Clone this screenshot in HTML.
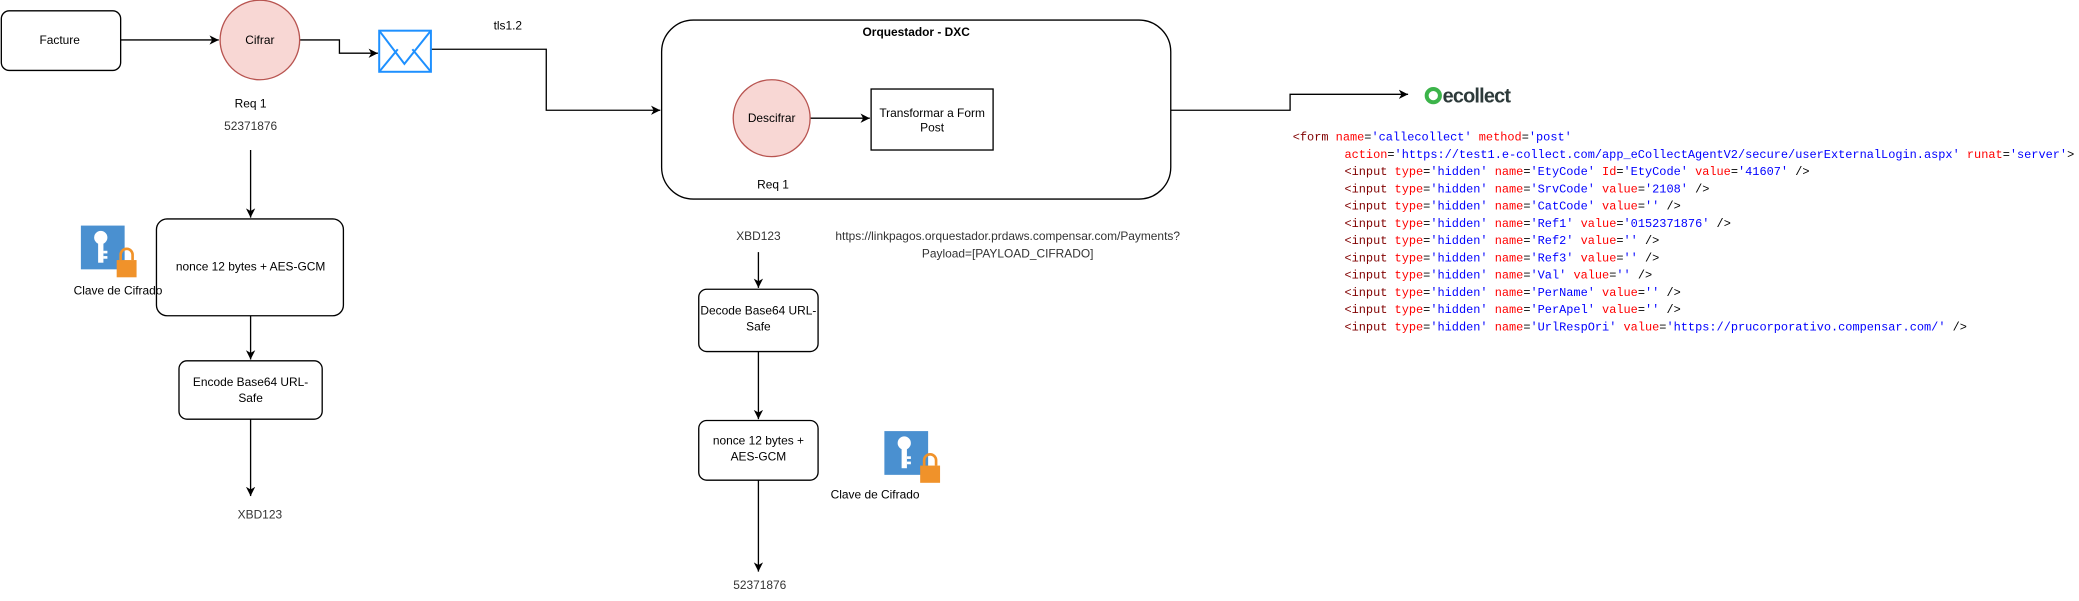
<!DOCTYPE html>
<html><head><meta charset="utf-8"><style>html,body{margin:0;padding:0;background:#fff}svg{display:block}</style></head>
<body>
<svg width="2079" height="601" viewBox="0 0 1568 453" xmlns="http://www.w3.org/2000/svg" font-family="Liberation Sans, sans-serif" font-size="9">
<defs><marker id="a" markerWidth="8" markerHeight="8" refX="7" refY="4" orient="auto" markerUnits="userSpaceOnUse"><path d="M0,0.5 L7,4 L0,7.5 L2,4 Z" fill="#000"/></marker></defs>
<rect width="1568" height="453" fill="#fff"/>
<g fill="none" stroke="#000" stroke-width="1">
<rect x="1" y="8" width="90" height="45" rx="6" fill="#fff"/>
<path d="M91,30 H165" marker-end="url(#a)"/>
<path d="M226,30 H256 V40 H285" marker-end="url(#a)"/>
<path d="M325,37 H412 V83 H498" marker-end="url(#a)"/>
<rect x="499" y="15" width="384" height="135" rx="24" fill="#fff"/>
<path d="M611,89 H656" marker-end="url(#a)"/>
<rect x="657" y="67" width="92" height="46" fill="#fff"/>
<path d="M883,83 H973 V71 H1062" marker-end="url(#a)"/>
<path d="M189,113 V164" marker-end="url(#a)"/>
<rect x="118" y="165" width="141" height="73" rx="8" fill="#fff"/>
<path d="M189,238 V271" marker-end="url(#a)"/>
<rect x="135" y="272" width="108" height="44" rx="6" fill="#fff"/>
<path d="M189,316 V374" marker-end="url(#a)"/>
<path d="M572,190 V217" marker-end="url(#a)"/>
<rect x="527" y="218" width="90" height="47" rx="6" fill="#fff"/>
<path d="M572,265 V316" marker-end="url(#a)"/>
<rect x="527" y="317" width="90" height="45" rx="6" fill="#fff"/>
<path d="M572,362 V431" marker-end="url(#a)"/>
</g>
<ellipse cx="196" cy="30" rx="30" ry="30" fill="#f8d7d4" stroke="#b85450"/>
<ellipse cx="582" cy="89" rx="29" ry="29" fill="#f8d7d4" stroke="#b85450"/>
<g fill="none" stroke="#1e90ff" stroke-width="1.5">
<rect x="286" y="23" width="39" height="31" fill="#fff"/>
<path d="M286,23 L305,48 L325,23 M286,54 L300,37 M325,54 L311,37"/>
</g>
<g id="key">
<rect x="61" y="170" width="33" height="33" fill="#4a90d0"/>
<circle cx="76" cy="179" r="5" fill="#fff"/><rect x="74" y="181" width="4" height="17" fill="#fff"/><rect x="78" y="189" width="3" height="2" fill="#fff"/><rect x="78" y="193" width="3" height="2" fill="#fff"/>
<rect x="88" y="196" width="15" height="13" fill="#f0922a"/><path d="M91,196 v-4 a4.5,4.5 0 0 1 9,0 v4" fill="none" stroke="#f0922a" stroke-width="2"/>
</g>
<use href="#key" x="606" y="155"/>
<g text-anchor="middle" fill="#000">
<text x="45" y="33">Facture</text>
<text x="196" y="33">Cifrar</text>
<text x="383" y="22">tls1.2</text>
<text x="691" y="27" font-weight="bold">Orquestador - DXC</text>
<text x="582" y="92">Descifrar</text>
<text x="703" y="88">Transformar a Form</text>
<text x="703" y="99">Post</text>
<text x="583" y="142">Req 1</text>
<text x="189" y="81">Req 1</text>
<text x="189" y="98" fill="#333">52371876</text>
<text x="189" y="204">nonce 12 bytes +  AES-GCM</text>
<text x="89" y="222">Clave de Cifrado</text>
<text x="189" y="291">Encode Base64 URL-</text>
<text x="189" y="303">Safe</text>
<text x="196" y="391" fill="#333">XBD123</text>
<text x="572" y="181" fill="#333">XBD123</text>
<text x="572" y="237">Decode Base64 URL-</text>
<text x="572" y="249">Safe</text>
<text x="572" y="335">nonce 12 bytes +</text>
<text x="572" y="347">AES-GCM</text>
<text x="660" y="376">Clave de Cifrado</text>
<text x="573" y="444" fill="#333">52371876</text>
<text x="760" y="181" fill="#333">https://linkpagos.orquestador.prdaws.compensar.com/Payments?</text>
<text x="760" y="194" fill="#333">Payload=[PAYLOAD_CIFRADO]</text>
</g>
<circle cx="1081" cy="72" r="5" fill="none" stroke="#3cb44a" stroke-width="3"/>
<text x="1088" y="77" font-size="15" font-weight="bold" fill="#2d3a3a" letter-spacing="-0.6">ecollect</text>
<g font-family="Liberation Mono, monospace" font-size="9" fill="#000" xml:space="preserve">
<text x="975" y="106"><tspan fill="#800000">&lt;form</tspan> <tspan fill="#f00">name</tspan>=<tspan fill="#00f">'callecollect'</tspan> <tspan fill="#f00">method</tspan>=<tspan fill="#00f">'post'</tspan></text>
<text x="1014" y="119"><tspan fill="#f00">action</tspan>=<tspan fill="#00f">'https://test1.e-collect.com/app_eCollectAgentV2/secure/userExternalLogin.aspx'</tspan> <tspan fill="#f00">runat</tspan>=<tspan fill="#00f">'server'</tspan>&gt;</text>
<text x="1014" y="132"><tspan fill="#800000">&lt;input</tspan> <tspan fill="#f00">type</tspan>=<tspan fill="#00f">'hidden'</tspan> <tspan fill="#f00">name</tspan>=<tspan fill="#00f">'EtyCode'</tspan> <tspan fill="#f00">Id</tspan>=<tspan fill="#00f">'EtyCode'</tspan> <tspan fill="#f00">value</tspan>=<tspan fill="#00f">'41607'</tspan> /&gt;</text>
<text x="1014" y="145"><tspan fill="#800000">&lt;input</tspan> <tspan fill="#f00">type</tspan>=<tspan fill="#00f">'hidden'</tspan> <tspan fill="#f00">name</tspan>=<tspan fill="#00f">'SrvCode'</tspan> <tspan fill="#f00">value</tspan>=<tspan fill="#00f">'2108'</tspan> /&gt;</text>
<text x="1014" y="158"><tspan fill="#800000">&lt;input</tspan> <tspan fill="#f00">type</tspan>=<tspan fill="#00f">'hidden'</tspan> <tspan fill="#f00">name</tspan>=<tspan fill="#00f">'CatCode'</tspan> <tspan fill="#f00">value</tspan>=<tspan fill="#00f">''</tspan> /&gt;</text>
<text x="1014" y="171"><tspan fill="#800000">&lt;input</tspan> <tspan fill="#f00">type</tspan>=<tspan fill="#00f">'hidden'</tspan> <tspan fill="#f00">name</tspan>=<tspan fill="#00f">'Ref1'</tspan> <tspan fill="#f00">value</tspan>=<tspan fill="#00f">'0152371876'</tspan> /&gt;</text>
<text x="1014" y="184"><tspan fill="#800000">&lt;input</tspan> <tspan fill="#f00">type</tspan>=<tspan fill="#00f">'hidden'</tspan> <tspan fill="#f00">name</tspan>=<tspan fill="#00f">'Ref2'</tspan> <tspan fill="#f00">value</tspan>=<tspan fill="#00f">''</tspan> /&gt;</text>
<text x="1014" y="197"><tspan fill="#800000">&lt;input</tspan> <tspan fill="#f00">type</tspan>=<tspan fill="#00f">'hidden'</tspan> <tspan fill="#f00">name</tspan>=<tspan fill="#00f">'Ref3'</tspan> <tspan fill="#f00">value</tspan>=<tspan fill="#00f">''</tspan> /&gt;</text>
<text x="1014" y="210"><tspan fill="#800000">&lt;input</tspan> <tspan fill="#f00">type</tspan>=<tspan fill="#00f">'hidden'</tspan> <tspan fill="#f00">name</tspan>=<tspan fill="#00f">'Val'</tspan> <tspan fill="#f00">value</tspan>=<tspan fill="#00f">''</tspan> /&gt;</text>
<text x="1014" y="223"><tspan fill="#800000">&lt;input</tspan> <tspan fill="#f00">type</tspan>=<tspan fill="#00f">'hidden'</tspan> <tspan fill="#f00">name</tspan>=<tspan fill="#00f">'PerName'</tspan> <tspan fill="#f00">value</tspan>=<tspan fill="#00f">''</tspan> /&gt;</text>
<text x="1014" y="236"><tspan fill="#800000">&lt;input</tspan> <tspan fill="#f00">type</tspan>=<tspan fill="#00f">'hidden'</tspan> <tspan fill="#f00">name</tspan>=<tspan fill="#00f">'PerApel'</tspan> <tspan fill="#f00">value</tspan>=<tspan fill="#00f">''</tspan> /&gt;</text>
<text x="1014" y="249"><tspan fill="#800000">&lt;input</tspan> <tspan fill="#f00">type</tspan>=<tspan fill="#00f">'hidden'</tspan> <tspan fill="#f00">name</tspan>=<tspan fill="#00f">'UrlRespOri'</tspan> <tspan fill="#f00">value</tspan>=<tspan fill="#00f">'https://prucorporativo.compensar.com/'</tspan> /&gt;</text>
</g>
</svg>
</body></html>
